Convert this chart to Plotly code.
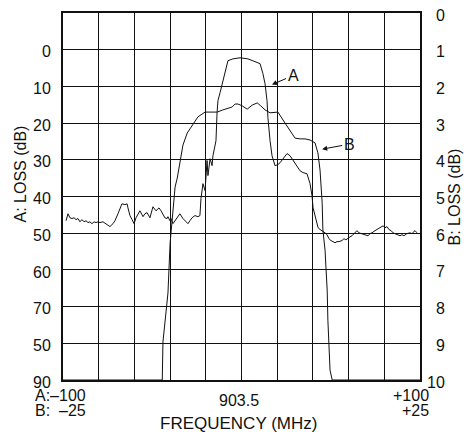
import plotly.graph_objects as go

# ---- Curve A: narrow filter response (x in MHz offset, -100..+100; loss in dB on left axis)
a_freq = [-98.3, -97.2, -96.1, -95.0, -93.8, -92.7, -91.6, -90.5, -89.4, -88.2, -87.1, -86.0,
          -84.9, -83.8, -82.6, -81.5, -80.4, -79.3, -77.6, -75.9, -73.7, -72.0, -70.9, -69.2,
          -68.1, -67.0, -65.3, -64.1, -63.6, -62.5, -61.3, -60.2, -59.1, -58.0, -56.9, -55.7,
          -55.2, -54.1, -52.9, -51.3, -49.6, -47.9, -46.2, -45.1, -44.0, -42.9, -41.7, -41.2,
          -40.1, -39.5, -38.4, -37.3, -36.1, -34.5, -32.8, -31.1, -30.0, -28.9, -27.7, -26.1,
          -24.4, -23.3, -22.7, -21.6, -20.4, -19.3, -18.8, -17.6, -16.5, -16.0, -15.4, -14.3,
          -13.7, -13.2, -12.0, -10.9, -9.2, -7.6, -4.8, -0.8, 3.6, 7.6, 10.4, 12.0,
          13.2, 14.3, 14.8, 16.0, 17.1, 18.8, 20.4, 21.6, 23.8, 25.5, 27.2, 28.9,
          30.5, 32.8, 34.5, 36.7, 38.4, 39.5, 40.1, 41.2, 42.3, 42.9, 44.0, 45.1,
          46.8, 47.9, 49.0, 50.1, 51.3, 52.4, 53.5, 54.6, 56.3, 57.4, 58.5, 59.7,
          60.8, 61.9, 63.0, 64.7, 65.8, 67.5, 69.2, 70.9, 72.0, 73.1, 74.8, 75.9,
          77.6, 79.3, 80.4, 81.5, 82.6, 83.8, 84.9, 86.0, 87.1, 88.8, 89.9, 91.0,
          92.7, 94.4, 95.5, 97.2, 98.3]
a_loss = [46.6, 44.7, 45.8, 46.0, 45.8, 46.3, 46.0, 46.9, 46.3, 46.9, 46.6, 47.1,
          46.9, 47.4, 46.9, 47.1, 46.9, 47.1, 46.9, 47.4, 48.2, 47.4, 46.6, 44.7,
          43.3, 42.0, 42.2, 42.0, 43.1, 45.2, 46.3, 47.4, 45.8, 44.7, 43.9, 45.0,
          45.5, 44.7, 44.4, 45.8, 42.8, 43.9, 43.1, 43.9, 44.7, 45.8, 46.0, 45.5,
          46.6, 46.0, 47.4, 46.6, 46.0, 44.7, 46.0, 46.9, 47.4, 46.6, 45.8, 45.2,
          45.5, 45.2, 40.6, 36.5, 38.4, 30.2, 34.3, 29.7, 31.6, 28.9, 27.5, 24.8,
          17.2, 13.9, 11.7, 9.3, 5.7, 3.0, 2.5, 2.2, 2.5, 3.3, 3.8, 6.5,
          9.3, 13.9, 18.5, 24.8, 28.9, 31.6, 31.3, 30.8, 29.2, 28.3, 28.9, 30.2,
          31.6, 33.0, 33.5, 33.8, 36.5, 39.8, 43.1, 45.2, 47.4, 48.5, 49.0, 49.3,
          49.9, 50.4, 51.5, 52.0, 52.3, 52.6, 52.3, 52.3, 52.0, 51.5, 51.8, 51.5,
          51.0, 50.7, 50.1, 49.3, 49.9, 50.1, 50.4, 50.7, 50.1, 49.9, 49.3, 49.0,
          48.5, 48.0, 48.5, 48.2, 49.0, 49.3, 49.9, 50.1, 50.4, 50.7, 50.4, 50.7,
          50.1, 49.9, 50.1, 49.3, 49.9]

# ---- Curve B: wide passband (x in MHz offset, -25..+25; loss in dB on right axis)
b_freq = [-25.0, -11.1, -11.0, -10.6, -10.3, -10.0, -9.6, -9.3, -9.0, -8.6, -8.2, -7.6,
          -6.8, -6.1, -5.1, -4.1, -3.4, -2.6, -1.9, -1.3, -0.9, -0.5, 0.1, 0.8,
          1.5, 2.2, 2.7, 3.3, 4.0, 5.1, 6.1, 6.8, 7.5, 8.2, 8.9, 9.6,
          10.3, 10.7, 11.0, 11.3, 11.4, 11.7, 12.0, 12.1, 12.4, 12.7, 25.0]
b_loss = [10.0, 10.0, 8.96, 8.28, 7.63, 6.27, 5.37, 4.74, 4.50, 4.09, 3.60, 3.27,
          3.05, 2.83, 2.70, 2.70, 2.70, 2.64, 2.59, 2.56, 2.48, 2.48, 2.53, 2.62,
          2.51, 2.45, 2.53, 2.64, 2.72, 2.70, 3.00, 3.22, 3.41, 3.43, 3.43, 3.46,
          3.54, 3.81, 4.28, 5.18, 5.91, 6.46, 7.55, 8.37, 9.73, 10.0, 10.0]

# ---- Tick labels
a_tickvals = [0, 10, 20, 30, 40, 50, 60, 70, 80, 90]
a_ticktext = ["0", "10", "20", "30", "40", "50", "60", "70", "50", "90"]
b_tickvals = [0, 1, 2, 3, 4, 5, 6, 7, 8, 9, 10]
b_ticktext = ["0", "1", "2", "3", "4", "5", "6", "7", "8", "9", "10"]
x_left_text = ["A:\u2013100", "B:\u00a0\u00a0\u201325"]
x_center_text = "903.5"
x_right_text = ["+100", "+25"]

FONT = "Liberation Sans, Arial, Helvetica, sans-serif"
FS = 16
INK = "#111111"

fig = go.Figure()
fig.add_trace(go.Scatter(x=a_freq, y=a_loss, mode="lines", xaxis="x", yaxis="y",
                         line=dict(color=INK, width=1.0), showlegend=False, hoverinfo="skip"))
fig.add_trace(go.Scatter(x=b_freq, y=b_loss, mode="lines", xaxis="x2", yaxis="y2",
                         line=dict(color=INK, width=1.0), showlegend=False, hoverinfo="skip"))

ann = []
# right-axis (B) tick labels, right-aligned
for v, t in zip(b_tickvals, b_ticktext):
    ann.append(dict(x=1, xref="paper", y=v, yref="y2", text=t, showarrow=False,
                    xanchor="right", xshift=27, yanchor="middle", yshift=-2,
                    font=dict(family=FONT, size=FS, color=INK)))
# bottom labels
ann.append(dict(x=0, xref="paper", xshift=-30, y=0, yref="paper", yshift=-15,
                text=x_left_text[0], showarrow=False, xanchor="left", yanchor="middle",
                font=dict(family=FONT, size=FS, color=INK)))
ann.append(dict(x=0, xref="paper", xshift=-30, y=0, yref="paper", yshift=-30,
                text=x_left_text[1], showarrow=False, xanchor="left", yanchor="middle",
                font=dict(family=FONT, size=FS, color=INK)))
ann.append(dict(x=0, xref="x", xshift=-3, y=0, yref="paper", yshift=-20,
                text=x_center_text, showarrow=False, xanchor="center", yanchor="middle",
                font=dict(family=FONT, size=FS, color=INK)))
ann.append(dict(x=1, xref="paper", xshift=11, y=0, yref="paper", yshift=-15,
                text=x_right_text[0], showarrow=False, xanchor="right", yanchor="middle",
                font=dict(family=FONT, size=FS, color=INK)))
ann.append(dict(x=1, xref="paper", xshift=11, y=0, yref="paper", yshift=-30,
                text=x_right_text[1], showarrow=False, xanchor="right", yanchor="middle",
                font=dict(family=FONT, size=FS, color=INK)))
# axis titles
ann.append(dict(x=0.5, xref="paper", xshift=-3, y=0, yref="paper", yshift=-43,
                text="FREQUENCY (MHz)", showarrow=False, xanchor="center", yanchor="middle",
                font=dict(family=FONT, size=17, color=INK)))
ann.append(dict(x=0, xref="paper", xshift=-43, y=0.5, yref="paper", yshift=22,
                text="A: LOSS (dB)", showarrow=False, textangle=-90, xanchor="center",
                yanchor="middle", font=dict(family=FONT, size=FS, color=INK)))
ann.append(dict(x=1, xref="paper", xshift=34, y=0.5, yref="paper", yshift=-1,
                text="B: LOSS (dB)", showarrow=False, textangle=-90, xanchor="center",
                yanchor="middle", font=dict(family=FONT, size=FS, color=INK)))
# curve labels
ann.append(dict(x=17.1, y=9.5, xref="x", yref="y", text="A", showarrow=True,
                ax=21, ay=-9, arrowhead=2, arrowsize=1, arrowwidth=1, arrowcolor=INK,
                font=dict(family=FONT, size=FS, color=INK)))
ann.append(dict(x=11.3, y=3.71, xref="x2", yref="y2", text="B", showarrow=True,
                ax=27, ay=-5, arrowhead=2, arrowsize=1, arrowwidth=1, arrowcolor=INK,
                font=dict(family=FONT, size=FS, color=INK)))

fig.update_layout(
    width=470, height=432,
    margin=dict(l=63, r=50, t=13, b=52),
    paper_bgcolor="white", plot_bgcolor="white",
    font=dict(family=FONT, size=FS, color=INK),
    xaxis=dict(range=[-100, 100], tick0=0, dtick=20, showgrid=True, gridcolor=INK,
               gridwidth=1, zeroline=False, showticklabels=False, ticks="",
               showline=True, linecolor=INK, linewidth=2, mirror=True),
    xaxis2=dict(range=[-25, 25], overlaying="x", visible=False),
    yaxis=dict(range=[90, -10], tickvals=a_tickvals, ticktext=a_ticktext,
               showgrid=True, gridcolor=INK, gridwidth=1, zeroline=False,
               ticks="outside", ticklen=7, tickcolor="rgba(0,0,0,0)",
               ticklabelshift=-2,
               tickfont=dict(family=FONT, size=FS, color=INK),
               showline=True, linecolor=INK, linewidth=2, mirror=True),
    yaxis2=dict(range=[10, 0], overlaying="y", side="right", showgrid=False,
                zeroline=False, showticklabels=False, ticks=""),
    annotations=ann,
)

fig.write_html("out.html", config={"displayModeBar": False},
               post_script="document.body.style.margin='0px';"
                           "document.body.style.overflow='hidden';")
